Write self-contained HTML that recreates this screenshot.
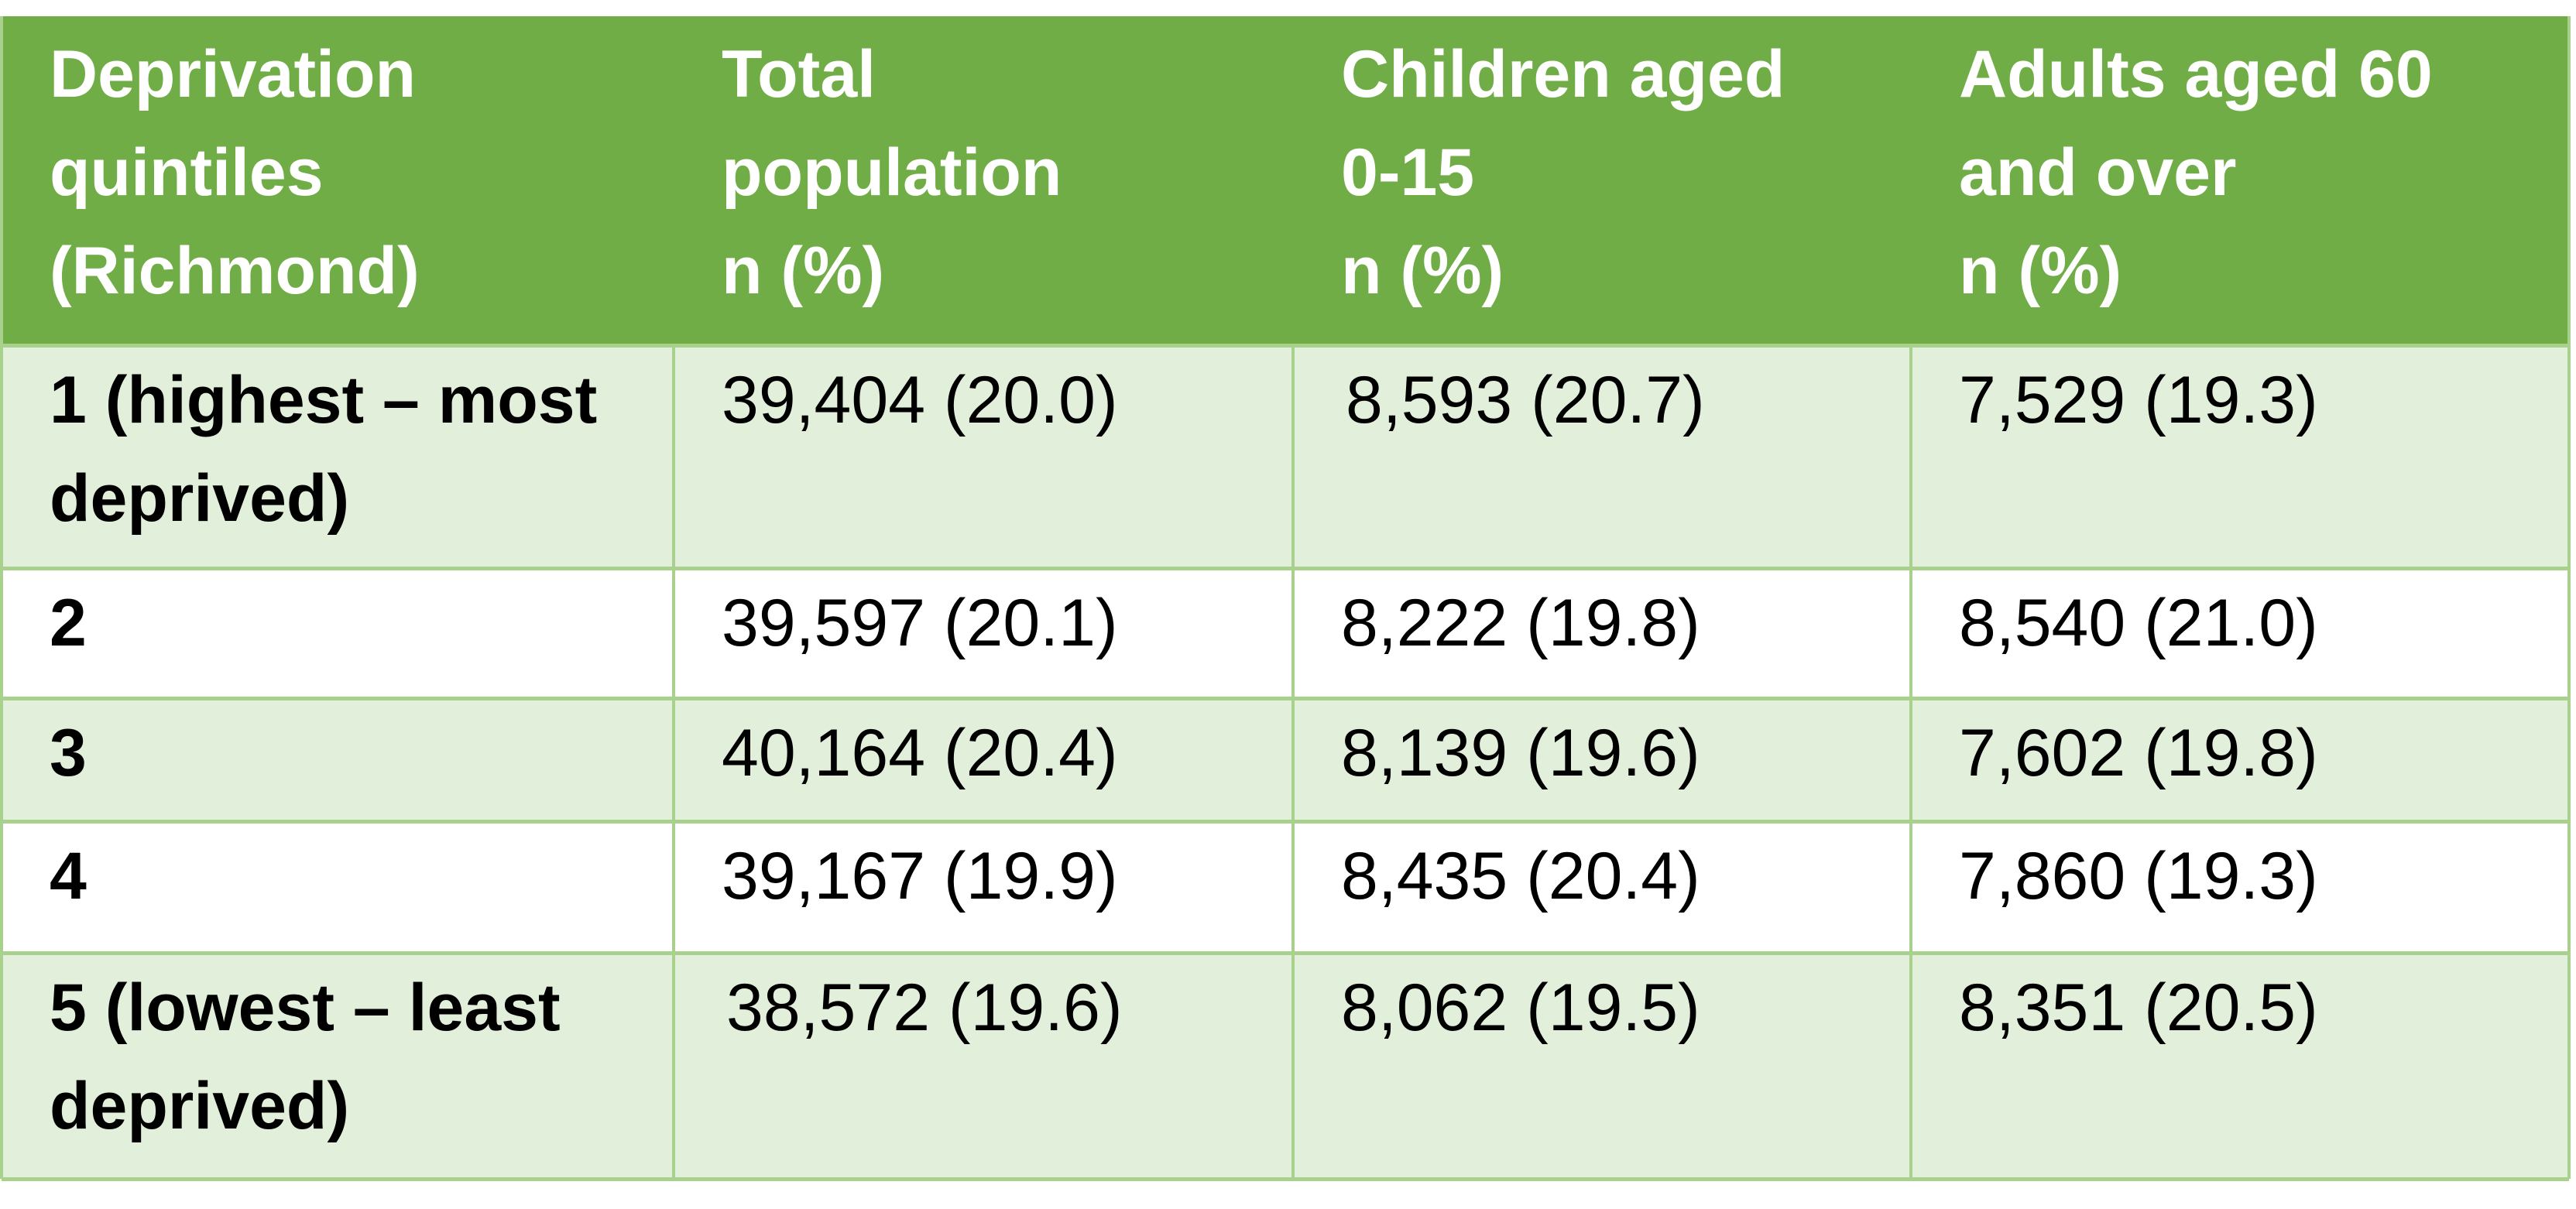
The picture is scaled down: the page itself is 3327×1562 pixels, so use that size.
<!DOCTYPE html>
<html><head><meta charset="utf-8"><style>
body{margin:0;width:3327px;height:1562px;background:#fff;position:relative;overflow:hidden;font-family:"Liberation Sans",sans-serif;}
.c{position:absolute;box-sizing:border-box;font-size:86px;line-height:127px;padding-left:62px;white-space:pre;color:#000;}
.h{background:#70AD47;color:#fff;font-weight:bold;padding-top:12px;}
.g{background:#E2EFDA;}
.w{background:#fff;}
.b{font-weight:bold;}
.vl{position:absolute;width:4px;background:#A9D18E;}
.hl{position:absolute;height:5px;background:#A9D18E;}
</style></head><body>
<div id="t"></div>
<script>
const headers = ["Deprivation\nquintiles\n(Richmond)","Total\npopulation\nn (%)","Children aged\n0-15\nn (%)","Adults aged 60\nand over\nn (%)"];
const quintiles = ["1 (highest – most\ndeprived)","2","3","4","5 (lowest – least\ndeprived)"];
const totalPop = [" 39,404 (20.0)"," 39,597 (20.1)"," 40,164 (20.4)"," 39,167 (19.9)","  38,572 (19.6)"];
const children = ["  8,593 (20.7)"," 8,222 (19.8)"," 8,139 (19.6)"," 8,435 (20.4)"," 8,062 (19.5)"];
const adults = [" 7,529 (19.3)"," 8,540 (21.0)"," 7,602 (19.8)"," 7,860 (19.3)"," 8,351 (20.5)"];
const colX=[2,870,1670,2468,3318];
const rowY=[21,446,734,902,1061,1231,1523];
const t=document.getElementById('t');
function cell(r,c,text,cls,name){
  const d=document.createElement('div');
  d.className='c '+cls;
  d.style.left=colX[c]+'px';d.style.top=rowY[r]+'px';
  d.style.width=(colX[c+1]-colX[c])+'px';d.style.height=(rowY[r+1]-rowY[r])+'px';
  if(r>0)d.style.paddingTop='8px';
  d.textContent=text.replace(/^ +/,'');
  if(r>0 && c>0) d.style.paddingLeft=(62+ (text.match(/^ +/)||[''])[0].length*6-6)+'px';
  
  
  t.appendChild(d);
}
headers.forEach((h,i)=>cell(0,i,h,'h','header-cell-'+(i+1)));
const cols=[quintiles,totalPop,children,adults];
const cnames=['quintile','total-population','children-0-15','adults-60-over'];
for(let r=0;r<5;r++){
  const bg=(r%2===0)?'g':'w';
  for(let c=0;c<4;c++) cell(r+1,c,cols[c][r],bg+(c===0?' b':''),cnames[c]+'-row-'+(r+1));
}
for(let i=1;i<rowY.length;i++){
  const l=document.createElement('div');l.className='hl';
  l.style.left=colX[0]+'px';l.style.width=(colX[4]-colX[0])+'px';l.style.top=(rowY[i]-2)+'px';
  
  
  t.appendChild(l);
}
for(let i=0;i<colX.length;i++){
  const l=document.createElement('div');l.className='vl';
  l.style.left=(colX[i]-2)+'px';l.style.top=(i===0||i===4?rowY[0]:rowY[1])+'px';
  l.style.height=(rowY[6]-(i===0||i===4?rowY[0]:rowY[1]))+'px';
  
  
  t.appendChild(l);
}
</script>
</body></html>
